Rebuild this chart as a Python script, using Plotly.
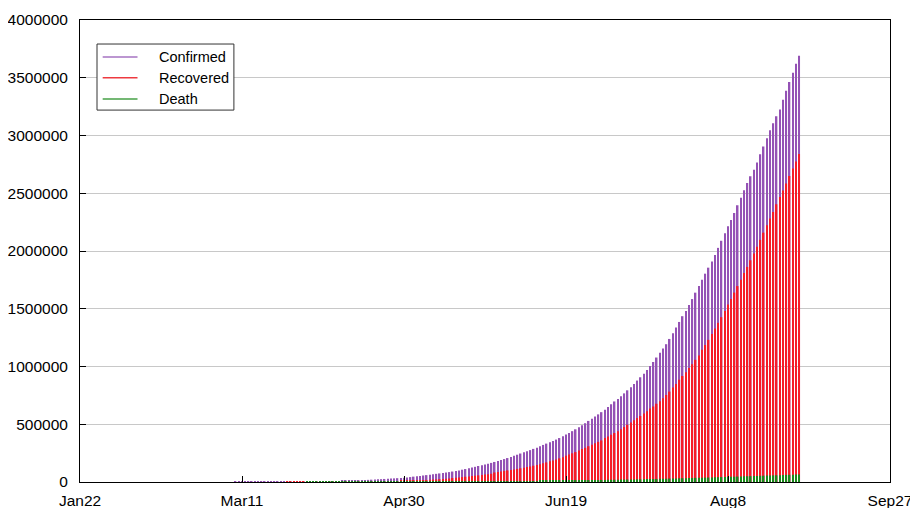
import plotly.graph_objects as go

# cumulative counts, one value per day from Jan22 (index 0) to Aug31 (index 222)
confirmed = [
    # Jan22-Jan31
    0, 0, 0, 0, 0, 0, 0, 0, 1, 1,
    # Feb
    1, 2, 3, 3, 3, 3, 3, 3, 3, 3, 3, 3, 3, 3, 3, 3, 3, 3, 3, 3, 3, 3, 3, 3, 3, 3, 3, 3, 3,
    # Mar
    3, 5, 5, 28, 30, 31, 34, 39, 43, 56, 62, 73, 82, 102, 113, 119, 142, 156, 194, 244,
    330, 396, 499, 536, 657, 727, 887, 987, 1024, 1251, 1397,
    # Apr
    1998, 2543, 2567, 3082, 3588, 4778, 5311, 5916, 6725, 7598, 8446, 9205, 10453, 11487,
    12322, 13430, 14352, 15722, 17615, 18539, 20080, 21370, 23077, 24530, 26283, 27890,
    29451, 31324, 33062, 34863,
    # May
    37257, 39699, 42505, 46437, 49400, 52987, 56351, 59695, 62808, 67161, 70768, 74292,
    78055, 81997, 85784, 90648, 95698, 100328, 106475, 112028, 118226, 124794, 131423,
    138536, 144950, 150793, 158086, 165386, 173491, 181827, 190609,
    # Jun
    198370, 207191, 216824, 226713, 236184, 246622, 257486, 265928, 276146, 286605,
    297535, 308993, 320922, 332424, 343091, 354065, 367264, 380532, 395048, 410451,
    425282, 440215, 456183, 473105, 490401, 508953, 528859, 548318, 566840, 585481,
    # Jul
    604641, 625544, 648315, 673165, 697413, 719665, 742417, 767296, 793802, 820916,
    849553, 878254, 906752, 936181, 968857, 1003832, 1039084, 1077781, 1118107, 1155338,
    1193078, 1238635, 1288108, 1337024, 1385635, 1435616, 1480073, 1531669, 1583792,
    1639350, 1695988,
    # Aug
    1750723, 1803695, 1855745, 1908254, 1964536, 2027074, 2088611, 2153010, 2215074,
    2268675, 2329638, 2396637, 2461190, 2526192, 2589682, 2647663, 2702681, 2767253,
    2836925, 2905825, 2975701, 3044940, 3106348, 3167323, 3224547, 3310234, 3387500,
    3463972, 3542733, 3621245, 3691166,
]

recovered = [
    0, 0, 0, 0, 0, 0, 0, 0, 0, 0,
    0, 0, 0, 0, 0, 0, 0, 0, 0, 0, 0, 0, 0, 3, 3, 3, 3, 3, 3, 3, 3, 3, 3, 3, 3, 3, 3, 3, 3,
    3, 3, 3, 3, 3, 3, 3, 3, 3, 4, 4, 4, 10, 10, 13, 14, 14, 14, 15, 20, 23, 27, 27, 40,
    43, 45, 73, 84, 95, 102, 123,
    148, 191, 192, 229, 229, 375, 421, 506, 620, 774, 969, 1080, 1181, 1359, 1432, 1768,
    2041, 2463, 2854, 3273, 3975, 4370, 5012, 5498, 5939, 6523, 7137, 7747, 8437, 9068,
    10007, 10819, 11775, 12847, 14142, 15331, 16776, 17887, 19301, 20969, 22549, 24420,
    26400, 27969, 30258, 34224, 36795, 39233, 42309, 45422, 48553, 51824, 54385, 57692,
    60706, 64277, 67749, 70920, 82627, 86936, 91852,
    95754, 100285, 104071, 108450, 113233, 118695, 123848, 129095, 134670, 141029,
    147195, 154330, 162379, 169798, 180013, 186935, 194325, 204711, 213831, 227756,
    237196, 248190, 258685, 271697, 285637, 295881, 309713, 321723, 334822, 347912,
    359860, 379892, 394227, 409083, 424433, 439934, 456831, 476378, 495513, 515386,
    534618, 553471, 571460, 592032, 612768, 635757, 653751, 677423, 700087, 724578,
    753050, 782606, 817209, 849432, 885573, 917568, 951166, 988029, 1019735, 1057805,
    1094374,
    1145629, 1186203, 1230509, 1282215, 1328336, 1378105, 1427005, 1480884, 1535743,
    1583489, 1639599, 1695982, 1751555, 1808936, 1862258, 1919842, 1977671, 2037870,
    2096664, 2158946, 2222577, 2280566, 2338035, 2404585, 2467758, 2523771, 2583948,
    2648998, 2713933, 2774801, 2839882,
]

deaths = [
    0, 0, 0, 0, 0, 0, 0, 0, 0, 0,
    0, 0, 0, 0, 0, 0, 0, 0, 0, 0, 0, 0, 0, 0, 0, 0, 0, 0, 0, 0, 0, 0, 0, 0, 0, 0, 0, 0, 0,
    0, 0, 0, 0, 0, 0, 0, 0, 0, 0, 0, 1, 2, 2, 2, 2, 3, 3, 4, 5, 4, 7, 10, 10, 12, 20, 20,
    24, 27, 32, 35,
    58, 72, 72, 86, 99, 136, 150, 178, 226, 246, 288, 331, 358, 393, 405, 448, 486, 521,
    559, 592, 645, 681, 721, 780, 825, 881, 939, 1008, 1079, 1154,
    1223, 1323, 1391, 1566, 1693, 1785, 1889, 1985, 2101, 2212, 2294, 2415, 2551, 2649,
    2753, 2871, 3025, 3156, 3302, 3434, 3584, 3726, 3868, 4024, 4172, 4344, 4534, 4711,
    4980, 5185, 5408,
    5608, 5829, 6088, 6363, 6649, 6946, 7207, 7473, 7750, 8102, 8498, 8884, 9195, 9520,
    9900, 11903, 12237, 12573, 12948, 13254, 13699, 14011, 14476, 14894, 15301, 15685,
    16095, 16475, 16893, 17400,
    17834, 18213, 18655, 19268, 19693, 20160, 20642, 21129, 21604, 22123, 22673, 23174,
    23727, 24309, 24914, 25602, 26273, 26816, 27497, 28082, 28732, 29861, 30601, 31358,
    32060, 32771, 33408, 34193, 34955, 35747, 36511,
    37364, 38135, 38938, 39795, 40699, 41585, 42518, 43379, 44386, 45257, 46091, 47033,
    48040, 49036, 49980, 50921, 51797, 52889, 53866, 54849, 55794, 56706, 57542, 58390,
    59357, 60472, 61529, 62550, 63498, 64469, 65288,
]

days = list(range(len(confirmed)))
tick_vals = [0, 50, 100, 150, 200, 250]
tick_text = ["Jan22", "Mar11", "Apr30", "Jun19", "Aug8", "Sep27"]
y_ticks = [0, 500000, 1000000, 1500000, 2000000, 2500000, 3000000, 3500000, 4000000]

SERIES = [
    ("Confirmed", confirmed, "#9452B5", "#A673C2"),
    ("Recovered", recovered, "#F51C28", "#EE3A40"),
    ("Death", deaths, "#1B8A1B", "#46A046"),
]

fig = go.Figure()
for name, vals, cor, _ in SERIES:
    fig.add_trace(go.Bar(
        x=days, y=vals, name=name, width=0.46,
        marker=dict(color=cor, line=dict(width=0)),
        showlegend=False,
    ))

# legenda desenhada à mão (caixa + linhas curtas + rótulos), coordenadas do papel
LEG_X0, LEG_X1, LEG_Y0, LEG_Y1 = 0.021, 0.190, 0.805, 0.948
LIN_X0, LIN_X1, TXT_X = 0.028, 0.071, 0.095
LEG_ROWS = [0.920, 0.875, 0.829]

shapes = [dict(
    type="rect", xref="paper", yref="paper",
    x0=LEG_X0, x1=LEG_X1, y0=LEG_Y0, y1=LEG_Y1,
    line=dict(color="#333333", width=1), fillcolor="white", layer="above",
)]
annotations = []
for (name, _, _, cor_leg), yy in zip(SERIES, LEG_ROWS):
    shapes.append(dict(
        type="line", xref="paper", yref="paper",
        x0=LIN_X0, x1=LIN_X1, y0=yy, y1=yy,
        line=dict(color=cor_leg, width=1.5), layer="above",
    ))
    annotations.append(dict(
        xref="paper", yref="paper", x=TXT_X, y=yy,
        xanchor="left", yanchor="middle", text=name, showarrow=False,
        font=dict(size=14.5, color="black"),
    ))

# a página tem margem de 8px no body: compensar
fig.update_layout(
    width=910, height=500,
    barmode="overlay",
    plot_bgcolor="white", paper_bgcolor="white",
    margin=dict(l=72, r=28, t=12, b=26),
    font=dict(family="Liberation Sans, Arial", size=15.5, color="black"),
    showlegend=False,
    shapes=shapes,
    annotations=annotations,
)
fig.update_xaxes(
    range=[0, 250], tickvals=tick_vals, ticktext=tick_text,
    showgrid=False, zeroline=False, automargin=False,
    showline=True, linecolor="black", linewidth=1, mirror=True,
    ticks="inside", ticklen=6, tickcolor="black", ticklabelstandoff=4,
)
fig.update_yaxes(
    range=[0, 4000000], tickvals=y_ticks, tickformat="d",
    showgrid=True, gridcolor="#C8C8C8", gridwidth=1, zeroline=False, automargin=False,
    showline=True, linecolor="black", linewidth=1, mirror=True,
    ticks="inside", ticklen=6, tickcolor="black", ticklabelstandoff=8,
)

fig.write_html("out.html")
